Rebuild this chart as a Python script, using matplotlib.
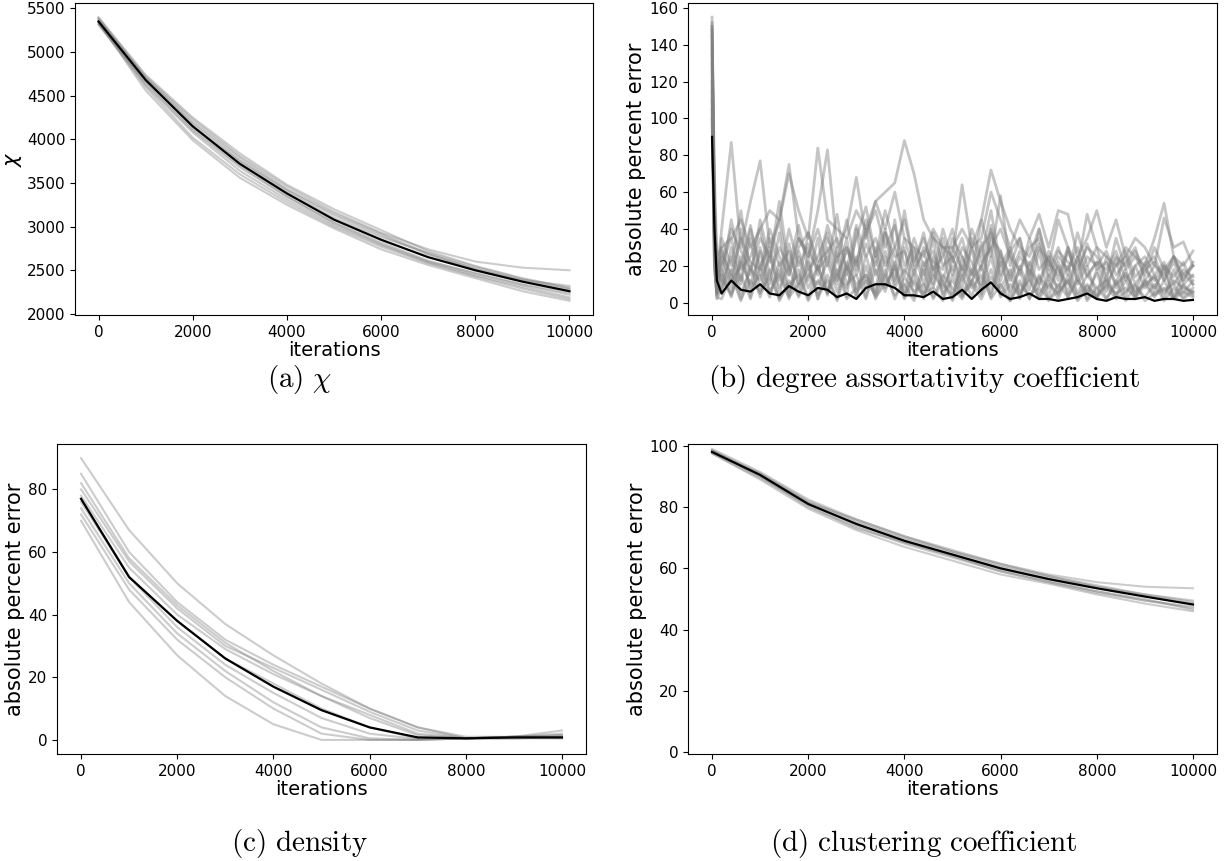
import numpy as np
import matplotlib
matplotlib.use("Agg")
import matplotlib.pyplot as plt

# iteration sample points
it_11 = [0, 1000, 2000, 3000, 4000, 5000, 6000, 7000, 8000, 9000, 10000]
it_b = [0, 50, 100] + list(range(200, 10001, 200))

# (a) chi
chi_mean = [5350, 4680, 4150, 3720, 3380, 3080, 2850, 2650, 2500, 2370, 2260]
chi_runs = [
    [5380, 4720, 4230, 3810, 3460, 3170, 2930, 2740, 2600, 2530, 2500],
    [5330, 4600, 4020, 3600, 3280, 3000, 2770, 2580, 2430, 2290, 2170],
    [5360, 4700, 4180, 3760, 3420, 3130, 2900, 2680, 2520, 2380, 2280],
    [5310, 4640, 4100, 3680, 3340, 3050, 2820, 2610, 2460, 2330, 2220],
    [5400, 4740, 4250, 3840, 3480, 3200, 2960, 2720, 2550, 2410, 2300],
    [5340, 4560, 3990, 3560, 3250, 2980, 2740, 2560, 2410, 2260, 2150],
    [5370, 4690, 4140, 3750, 3400, 3100, 2880, 2700, 2540, 2400, 2290],
    [5320, 4660, 4120, 3700, 3350, 3040, 2800, 2600, 2470, 2340, 2240],
    [5390, 4710, 4200, 3790, 3430, 3150, 2920, 2690, 2510, 2390, 2320],
    [5350, 4620, 4080, 3640, 3310, 3020, 2790, 2590, 2440, 2310, 2190],
]

# (b) degree assortativity coefficient
assort_mean = [90, 40, 12,
               5, 12, 7, 6, 10,
               5, 4, 9, 6, 4,
               8, 7, 3, 5, 2,
               8, 10, 10, 8, 4,
               4, 3, 6, 2, 3,
               7, 2, 7, 11, 5,
               2, 3, 5, 2, 2,
               1, 2, 3, 5, 2,
               1, 3, 2, 2, 3,
               1, 2, 2, 1, 1.5]
assort_runs = [
    [150, 70, 25,
     30, 35, 45, 30, 40,
     50, 45, 70, 50, 35,
     84, 45, 40, 35, 50,
     40, 55, 60, 65, 88,
     70, 45, 35, 30, 30,
     40, 30, 45, 72, 55,
     40, 30, 25, 40, 20,
     45, 30, 20, 48, 30,
     25, 20, 30, 25, 20,
     35, 54, 25, 20, 28],
    [155, 50, 15,
     40, 87, 30, 55, 77,
     30, 45, 75, 35, 25,
     50, 83, 30, 40, 68,
     35, 55, 40, 60, 35,
     30, 25, 40, 30, 25,
     64, 30, 35, 60, 45,
     30, 45, 35, 48, 30,
     50, 48, 25, 35, 50,
     30, 45, 25, 35, 30,
     20, 46, 30, 33, 20],
    [145, 40, 8,
     5, 30, 10, 35, 5,
     28, 3, 32, 8, 25,
     2, 30, 12, 35, 4,
     26, 6, 38, 10, 30,
     3, 22, 8, 30, 2,
     25, 10, 33, 5, 28,
     2, 20, 7, 28, 3,
     22, 5, 25, 2, 18,
     6, 24, 3, 20, 8,
     15, 2, 18, 5, 12],
    [120, 30, 5,
     25, 8, 40, 3, 30,
     10, 38, 4, 28, 12,
     35, 5, 25, 3, 40,
     8, 30, 12, 45, 5,
     28, 10, 35, 2, 25,
     8, 30, 4, 40, 12,
     28, 3, 22, 9, 25,
     4, 30, 10, 20, 3,
     25, 8, 18, 4, 22,
     6, 20, 3, 16, 10],
    [135, 55, 20,
     12, 45, 18, 25, 40,
     15, 30, 20, 42, 18,
     25, 38, 15, 28, 20,
     45, 25, 50, 30, 15,
     35, 20, 28, 12, 30,
     18, 40, 25, 50, 20,
     30, 15, 35, 18, 25,
     12, 28, 15, 32, 18,
     22, 10, 28, 14, 20,
     25, 12, 22, 10, 15],
    [110, 25, 3,
     2, 15, 1, 20, 3,
     18, 1, 12, 4, 22,
     2, 15, 1, 18, 3,
     20, 2, 15, 4, 10,
     1, 18, 2, 12, 1,
     15, 3, 20, 2, 10,
     1, 12, 2, 15, 1,
     10, 3, 14, 1, 8,
     2, 12, 1, 9, 3,
     10, 1, 8, 2, 6],
    [150, 35, 12,
     35, 20, 50, 15, 45,
     22, 55, 18, 35, 25,
     40, 20, 48, 15, 35,
     52, 25, 40, 18, 50,
     20, 38, 15, 40, 22,
     35, 15, 45, 25, 58,
     20, 35, 12, 40, 18,
     30, 15, 38, 20, 30,
     12, 35, 18, 25, 15,
     30, 18, 25, 12, 20],
    [100, 20, 6,
     18, 4, 25, 8, 15,
     3, 22, 6, 18, 2,
     20, 5, 15, 8, 25,
     3, 18, 6, 22, 4,
     15, 2, 20, 5, 12,
     3, 18, 8, 25, 4,
     15, 2, 18, 5, 12,
     2, 15, 4, 10, 2,
     14, 3, 12, 2, 10,
     3, 12, 2, 9, 4],
    [140, 45, 10,
     20, 35, 12, 40, 20,
     30, 12, 40, 20, 32,
     15, 35, 22, 45, 18,
     38, 50, 30, 42, 20,
     30, 15, 38, 20, 25,
     12, 30, 18, 42, 15,
     28, 35, 15, 30, 22,
     15, 30, 12, 25, 20,
     28, 15, 22, 30, 12,
     20, 15, 25, 12, 22],
    [125, 28, 4,
     10, 25, 5, 18, 12,
     25, 8, 20, 3, 15,
     10, 22, 6, 20, 10,
     15, 5, 25, 8, 18,
     10, 4, 15, 8, 20,
     5, 12, 20, 30, 8,
     18, 6, 12, 3, 15,
     8, 20, 5, 15, 8,
     12, 4, 16, 6, 10,
     14, 5, 12, 8, 6],
    [130, 35, 8,
     15, 3, 22, 10, 28,
     5, 18, 2, 25, 8,
     20, 4, 30, 10, 15,
     2, 25, 8, 20, 3,
     18, 6, 25, 10, 4,
     20, 8, 15, 3, 22,
     6, 18, 2, 14, 8,
     20, 3, 12, 6, 16,
     2, 10, 15, 4, 12,
     8, 18, 3, 10, 5],
    [148, 60, 18,
     28, 15, 35, 22, 18,
     40, 25, 15, 35, 28,
     18, 42, 25, 30, 15,
     32, 20, 38, 25, 28,
     15, 30, 22, 18, 35,
     25, 15, 30, 38, 25,
     15, 28, 20, 32, 12,
     25, 18, 30, 15, 22,
     18, 28, 12, 20, 25,
     15, 22, 10, 18, 14],
    [115, 22, 2,
     8, 18, 2, 12, 6,
     14, 2, 10, 15, 1,
     12, 6, 18, 2, 8,
     15, 3, 10, 18, 2,
     12, 5, 8, 1, 15,
     4, 10, 2, 14, 6,
     1, 10, 4, 8, 2,
     6, 12, 1, 7, 3,
     9, 2, 6, 10, 1,
     5, 8, 2, 6, 3],
    [152, 42, 14,
     22, 40, 28, 18, 35,
     25, 45, 15, 30, 38,
     22, 28, 35, 18, 42,
     25, 35, 20, 30, 45,
     22, 35, 18, 25, 40,
     15, 35, 22, 30, 40,
     25, 18, 30, 35, 15,
     28, 22, 18, 30, 25,
     15, 25, 20, 28, 18,
     22, 12, 25, 15, 20],
    [105, 18, 5,
     12, 5, 15, 2, 20,
     6, 15, 3, 10, 18,
     4, 12, 2, 22, 6,
     12, 4, 18, 2, 14,
     6, 10, 3, 15, 8,
     2, 12, 5, 18, 3,
     10, 4, 14, 2, 10,
     5, 12, 2, 9, 4,
     10, 5, 8, 3, 12,
     4, 7, 10, 3, 8],
    [138, 38, 9,
     30, 12, 20, 42, 15,
     35, 20, 28, 10, 38,
     18, 25, 10, 30, 22,
     40, 15, 28, 12, 35,
     18, 28, 10, 35, 15,
     30, 22, 10, 35, 28,
     12, 25, 18, 10, 28,
     18, 10, 25, 14, 22,
     10, 20, 25, 10, 18,
     12, 20, 14, 22, 10],
]

# (c) density
dens_mean = [77, 52, 38, 26, 17, 9.5, 4, 0.8, 0.5, 0.8, 0.8]
dens_runs = [
    [90, 67, 50, 37, 27, 18, 10, 4, 0.5, 1, 2],
    [70, 44, 27, 14, 5, 0, 0, 0, 0.5, 0.5, 0.5],
    [78, 55, 40, 29, 21, 14, 8, 2, 0.5, 1, 1],
    [82, 58, 43, 31, 22, 14, 7, 1.5, 0.5, 1, 1.5],
    [74, 50, 34, 22, 12, 4, 0.5, 0, 0.5, 1, 0.5],
    [76, 52, 38, 26, 18, 10, 4, 0.5, 0.5, 0.5, 1],
    [80, 57, 42, 30, 23, 16, 9, 3, 0.5, 1, 3],
    [72, 48, 32, 20, 10, 2, 0, 0, 0.5, 0.5, 0.8],
    [85, 60, 44, 32, 24, 17, 10, 4, 1, 1, 1.5],
    [77, 52, 36, 24, 15, 7, 2, 0.3, 0.5, 0.8, 1],
]

# (d) clustering coefficient
clust_mean = [98, 90.5, 81, 74.5, 69, 64.5, 60, 56.5, 53.5, 50.8, 48.2]
clust_runs = [
    [99, 91.5, 82.5, 76, 70.5, 66, 61.5, 58, 55.5, 54, 53.5],
    [97.5, 89, 79.5, 72.5, 67, 62.5, 58, 55, 51.5, 48.5, 46],
    [98.5, 91, 82, 75.5, 70, 65.5, 61, 57.5, 54.5, 51.5, 49.5],
    [98, 90, 80, 73.5, 68, 63.5, 59, 55.5, 52.5, 49.5, 47],
    [98.5, 90.5, 81.5, 75, 69.5, 65, 60.5, 57, 54, 51, 48.5],
    [97.5, 89.5, 80.5, 73, 68.5, 64, 59.5, 56, 52.5, 50, 46.5],
    [98, 91, 81.5, 76, 70.5, 65.5, 61.5, 57.5, 54, 51.5, 49],
    [98.5, 90, 81, 74, 68.5, 64, 59, 55.5, 52, 49.5, 47.5],
]

W, H = 1225, 861
fig = plt.figure(figsize=(W / 100, H / 100), dpi=100)


def box(l, r, t, b):
    return [l / W, 1 - b / H, (r - l) / W, (b - t) / H]


panels = [
    (box(75, 593, 3, 315), it_11, chi_runs, chi_mean, r"$\chi$", None, 1.5, 0.4),
    (box(688, 1217, 3, 315), it_b, assort_runs, assort_mean, "absolute percent error", None, 2.0, 0.45),
    (box(57, 586, 444, 754), it_11, dens_runs, dens_mean, "absolute percent error", None, 1.5, 0.4),
    (box(688, 1217, 444, 754), it_11, clust_runs, clust_mean, "absolute percent error", (-0.6, 100.6), 1.5, 0.4),
]

for pos, xs, runs, mean, ylab, ylim, lw, al in panels:
    ax = fig.add_axes(pos)
    for run in runs:
        ax.plot(xs, run, color="gray", alpha=al, lw=lw)
    ax.plot(xs, mean, color="black", lw=1.6)
    ax.set_xlabel("iterations", fontsize=14, labelpad=1)
    ax.set_ylabel(ylab, fontsize=15, labelpad=2)
    ax.tick_params(labelsize=11)
    ax.set_xticks([0, 2000, 4000, 6000, 8000, 10000])
    if ylim:
        ax.set_ylim(*ylim)

captions = [
    (300, 380, r"$\mathrm{(a)}\ \chi$"),
    (924, 380, r"$\mathrm{(b)\ degree\ assortativity\ coefficient}$"),
    (300, 843, r"$\mathrm{(c)\ density}$"),
    (924, 843, r"$\mathrm{(d)\ clustering\ coefficient}$"),
]
for cx, cy, txt in captions:
    fig.text(cx / W, 1 - cy / H, txt, ha="center", va="center",
             fontsize=21, math_fontfamily="cm")

fig.savefig("out.png", dpi=100)
